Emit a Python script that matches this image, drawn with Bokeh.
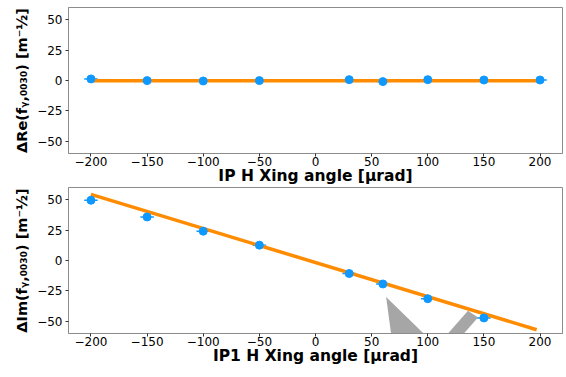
from bokeh.plotting import figure
from bokeh.layouts import column
from bokeh.models import Range1d, FixedTicker, PolyAnnotation, ColumnDataSource
from bokeh.embed import file_html
from bokeh.resources import INLINE
import numpy as np

# ---- data ----
x_top = [-200, -150, -100, -50, 30, 60, 100, 150, 200]
re_top = [1.3, -0.1, -0.4, -0.1, 0.7, -0.9, 0.7, 0.4, 0.4]
xerr_top = [6, 6, 6, 6, 6, 6, 6, 6, 6]
fit_top_x = [-200, 200]
fit_top_y = [-0.3, -0.2]

x_bot = [-200, -150, -100, -50, 30, 60, 100, 150]
im_bot = [49.5, 35.8, 24.1, 12.6, -10.7, -19.3, -31.4, -47.2]
xerr_bot = [6, 6, 6, 6, 6, 6, 6, 6]
fit_bot_x = [-200, 197]
fit_bot_y = [54.4, -56.9]

x_ticks = [-200, -150, -100, -50, 0, 50, 100, 150, 200]
x_tick_labels = ["\u2212200", "\u2212150", "\u2212100", "\u221250", "0", "50", "100", "150", "200"]
y_ticks = [-50, -25, 0, 25, 50]
y_tick_labels = ["\u221250", "\u221225", "0", "25", "50"]

# gray annotation arrow (data coords of lower panel)
arrow_x = [62.9, 108.0, 135.8, 144.7, 116.0, 163.2, 75.0]
arrow_y = [-30.0, -70.5, -41.4, -46.8, -77.0, -115.2, -112.5]

BLUE = "#0f99ff"
ORANGE = "#ff8c00"
SPINE = "#8c8c8c"


def make_fig(xlabel, ylabel, top_border):
    p = figure(frame_width=494, frame_height=146, x_range=Range1d(-220, 220), y_range=Range1d(-60, 60),
               output_backend="svg", toolbar_location=None,
               min_border_left=68, min_border_right=3, min_border_top=top_border, min_border_bottom=0)
    p.grid.visible = False
    p.outline_line_color = SPINE
    p.outline_line_width = 1
    p.background_fill_color = "white"
    p.border_fill_color = "white"
    for ax, ticks, labels in ((p.xaxis[0], x_ticks, x_tick_labels), (p.yaxis[0], y_ticks, y_tick_labels)):
        ax.ticker = FixedTicker(ticks=ticks)
        ax.major_label_overrides = {t: l for t, l in zip(ticks, labels)}
        ax.minor_tick_line_color = None
        ax.major_tick_in = 0
        ax.major_tick_out = 3
        ax.major_tick_line_color = "#333333"
        ax.axis_line_color = SPINE
        ax.major_label_text_font = "DejaVu Sans"
        ax.major_label_text_font_size = "12px"
        ax.major_label_text_color = "black"
        ax.axis_label_text_font = "DejaVu Sans"
        ax.axis_label_text_font_style = "bold"
        ax.axis_label_text_color = "black"
    p.xaxis.major_label_standoff = 0
    p.yaxis.major_label_standoff = 3
    p.xaxis.axis_label = xlabel
    p.yaxis.axis_label = ylabel
    p.xaxis.axis_label_text_font_size = "15.5px"
    p.yaxis.axis_label_text_font_size = "14.5px"
    p.xaxis.axis_label_standoff = -2
    p.yaxis.axis_label_standoff = 4
    return p


def draw(p, xs, ys, xerr, fx, fy):
    xs = np.array(xs, dtype=float)
    xe = np.array(xerr, dtype=float)
    src = ColumnDataSource(dict(x=xs, y=ys, x0=xs - xe, x1=xs + xe))
    p.segment(x0="x0", x1="x1", y0="y", y1="y", source=src, line_color=BLUE, line_width=1.5)
    p.line(fx, fy, line_color=ORANGE, line_width=3.5)
    p.scatter("x", "y", source=src, size=8, fill_color=BLUE, line_color=BLUE)


p1 = make_fig("IP H Xing angle [\u03bcrad]", "\u0394Re(f\u1d67,\u2080\u2080\u2083\u2080) [m\u207b\u00bd]", 7)
draw(p1, x_top, re_top, xerr_top, fit_top_x, fit_top_y)

p2 = make_fig("IP1 H Xing angle [\u03bcrad]", "\u0394Im(f\u1d67,\u2080\u2080\u2083\u2080) [m\u207b\u00bd]", 0)
p2.add_layout(PolyAnnotation(xs=arrow_x, ys=arrow_y, fill_color="gray", fill_alpha=0.7,
                             line_color=None, level="underlay"))
draw(p2, x_bot, im_bot, xerr_bot, fit_bot_x, fit_bot_y)

layout = column(p1, p2, spacing=0)
open("out.html", "w").write(file_html(layout, INLINE))
